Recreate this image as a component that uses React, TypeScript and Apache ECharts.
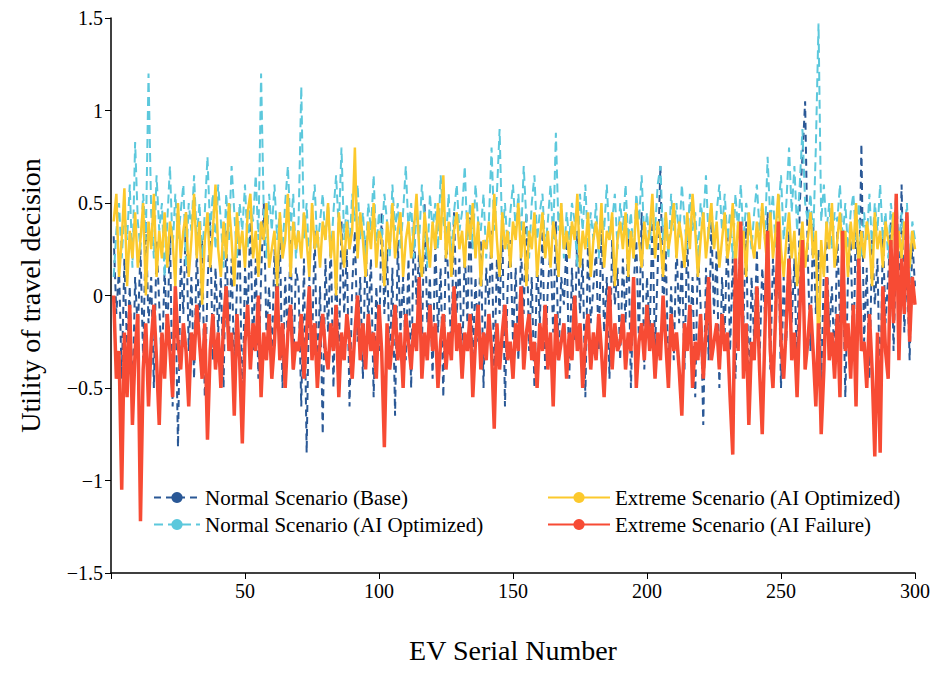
import React, { useEffect, useRef } from 'react';
import * as echarts from 'echarts';

const normalBase = [
  0.32,-0.1,0.15,-0.45,0.2,-0.3,0.05,-0.6,0.1,-0.2,
  0.25,-0.35,0.4,-0.15,0.1,-0.5,0.3,-0.05,-0.4,0.15,
  -0.25,0.35,-0.6,0.05,-0.82,0.2,-0.1,0.45,-0.3,0.1,
  -0.45,0.25,-0.15,0.3,-0.55,0.05,0.4,-0.35,0.15,-0.2,
  0.1,-0.5,0.35,-0.25,0.2,-0.4,0.05,0.3,-0.65,0.15,
  -0.1,0.4,-0.3,0.2,-0.45,0.1,0.5,-0.2,0.05,-0.35,
  0.25,-0.15,0.35,-0.5,0.1,-0.25,0.3,-0.4,0.15,0.05,
  -0.6,0.2,-0.85,0.1,-0.3,0.35,-0.45,0.05,-0.75,0.2,
  -0.2,0.3,-0.5,0.15,-0.35,0.4,-0.1,0.25,-0.6,0.05,
  0.35,-0.25,0.1,-0.45,0.3,-0.15,0.2,-0.55,0.05,-0.3,
  0.45,-0.1,0.25,-0.4,0.15,-0.65,0.3,-0.2,0.1,-0.35,
  0.2,-0.5,0.4,-0.05,0.25,-0.3,0.5,-0.15,0.1,-0.45,
  0.3,-0.2,0.15,-0.55,0.35,0.05,-0.3,0.45,-0.1,0.2,
  -0.4,0.25,-0.15,0.5,-0.35,0.1,-0.25,0.3,-0.5,0.15,
  -0.05,0.35,-0.45,0.2,-0.1,0.4,-0.6,0.05,0.3,-0.25,
  0.15,-0.35,0.25,-0.1,0.45,-0.3,0.1,-0.5,0.2,-0.15,
  0.35,-0.4,0.05,0.25,-0.2,0.4,-0.35,0.1,-0.05,0.3,
  -0.45,0.15,-0.25,0.35,-0.1,0.2,-0.55,0.3,-0.15,0.05,
  0.25,-0.3,0.4,-0.2,0.1,-0.45,0.3,-0.05,0.15,-0.35,
  0.2,-0.15,0.35,-0.5,0.05,0.3,-0.25,0.45,-0.4,0.1,
  -0.2,0.4,-0.3,0.15,0.7,-0.1,0.25,-0.45,0.05,-0.35,
  0.3,-0.15,0.2,-0.4,0.35,-0.25,0.1,-0.55,0.25,-0.05,
  -0.7,0.15,-0.35,0.4,-0.1,0.25,-0.5,0.1,-0.2,0.35,
  -0.3,0.2,-0.45,0.05,0.3,-0.15,0.4,-0.6,0.1,-0.25,
  0.25,-0.35,0.15,-0.1,0.45,-0.4,0.2,-0.05,0.3,-0.5,
  0.1,-0.25,0.35,-0.15,0.2,-0.45,0.5,0.75,1.05,0.2,
  -0.3,0.4,-0.1,0.25,-0.5,0.15,0.3,-0.2,0.05,-0.4,
  0.35,-0.15,0.2,-0.55,0.1,0.3,-0.35,0.45,-0.1,0.82,
  -0.25,0.15,-0.45,0.3,-0.05,0.2,-0.6,0.35,-0.15,0.1,
  0.4,-0.3,0.25,-0.1,0.6,-0.2,0.15,-0.35,0.3,0.05,
];

const normalAI = [
  0.1,0.35,0.5,0.2,0.45,0.3,0.6,0.15,0.83,0.4,
  0.25,0.55,0.3,1.2,0.45,0.2,0.65,0.35,0.5,0.1,
  0.4,0.7,0.25,0.55,0.3,0.45,0.6,0.15,0.5,0.35,
  0.65,0.3,0.5,0.2,0.45,0.75,0.35,0.55,0.25,0.6,
  0.4,0.15,0.55,0.3,0.7,0.45,0.2,0.5,0.35,0.6,
  0.25,0.5,0.4,0.65,0.3,1.2,0.45,0.2,0.55,0.35,
  0.6,0.3,0.45,0.25,0.5,0.7,0.35,0.55,0.2,0.4,
  1.13,0.3,0.5,0.15,0.45,0.6,0.25,0.4,0.55,0.3,
  0.5,0.2,0.45,0.65,0.35,0.8,0.3,0.5,0.25,0.55,
  0.4,0.6,0.3,0.45,0.2,0.5,0.35,0.65,0.25,0.45,
  0.3,0.55,0.4,0.2,0.6,0.35,0.5,0.25,0.45,0.7,
  0.35,0.5,0.2,0.45,0.3,0.6,0.4,0.15,0.55,0.35,
  0.5,0.25,0.65,0.4,0.3,0.55,0.2,0.45,0.6,0.35,
  0.45,0.7,0.3,0.5,0.25,0.6,0.4,0.35,0.55,0.2,
  0.4,0.8,0.35,0.55,0.9,0.3,0.5,0.25,0.45,0.6,
  0.35,0.55,0.3,0.7,0.4,0.2,0.5,0.65,0.3,0.45,
  0.55,0.25,0.4,0.6,0.3,0.88,0.35,0.5,0.2,0.45,
  0.3,0.5,0.4,0.15,0.55,0.35,0.6,0.25,0.45,0.3,
  0.5,0.2,0.45,0.35,0.6,0.3,0.4,0.55,0.25,0.5,
  0.35,0.6,0.3,0.45,0.2,0.55,0.4,0.65,0.3,0.45,
  0.25,0.5,0.35,0.6,0.7,0.3,0.45,0.2,0.55,0.35,
  0.5,0.3,0.6,0.4,0.25,0.55,0.35,0.45,0.2,0.5,
  0.4,0.65,0.3,0.5,0.25,0.45,0.6,0.35,0.55,0.3,
  0.45,0.2,0.55,0.35,0.6,0.3,0.5,0.4,0.25,0.45,
  0.6,0.35,0.5,0.3,0.75,0.4,0.55,0.25,0.45,0.65,
  0.3,0.5,0.8,0.45,0.7,0.35,0.6,0.9,0.5,0.4,
  0.55,0.3,0.8,1.47,0.4,0.6,0.35,0.5,0.25,0.45,
  0.4,0.6,0.3,0.5,0.25,0.45,0.55,0.3,0.5,0.2,
  0.45,0.3,0.55,0.25,0.5,0.35,0.6,0.3,0.45,0.2,
  0.5,0.35,0.55,0.25,0.45,0.3,0.5,0.1,0.4,0.3,
];

const extremeOptimized = [
  0.4,0.55,0.1,0.3,0.58,0.05,0.35,0.2,0.45,0.15,
  0.3,0.5,0.0,0.4,0.25,0.55,0.1,0.35,0.2,0.45,
  0.15,0.4,0.3,0.05,0.5,0.2,0.35,0.45,0.1,0.3,
  0.55,0.2,0.4,-0.05,0.3,0.45,0.15,0.35,0.6,0.25,
  0.1,0.4,0.2,0.5,0.3,0.05,0.45,0.25,0.35,0.15,
  0.45,0.55,0.2,0.35,0.1,0.4,0.3,0.5,0.15,0.25,
  0.35,0.05,0.45,0.2,0.3,0.55,0.1,0.4,0.25,0.35,
  0.2,0.45,0.3,0.1,0.5,0.25,0.35,0.15,0.4,0.3,
  0.5,0.2,0.35,0.0,0.45,0.3,0.15,0.4,0.25,0.35,
  0.8,0.2,0.45,0.3,0.1,0.4,0.25,0.5,0.15,0.35,
  0.3,0.05,0.4,0.25,0.5,0.2,0.35,0.45,0.1,0.3,
  0.4,0.2,0.35,0.55,0.25,0.1,0.45,0.3,0.15,0.4,
  0.25,0.5,0.3,0.65,0.2,0.4,0.1,0.35,0.45,0.25,
  0.35,0.15,0.45,0.3,0.5,0.2,0.4,0.05,0.3,0.25,
  0.4,0.2,0.55,0.3,0.1,0.45,0.25,0.35,0.15,0.4,
  0.3,0.5,0.2,0.4,0.05,0.35,0.25,0.45,0.1,0.3,
  0.45,0.2,0.35,0.15,0.4,0.3,0.1,0.5,0.25,0.35,
  0.2,0.4,0.3,0.55,0.15,0.35,0.25,0.45,0.1,0.3,
  0.4,0.25,0.5,0.15,0.35,0.3,0.45,0.05,0.3,0.4,
  0.25,0.45,0.1,0.35,0.2,0.5,0.3,0.15,0.4,0.25,
  0.35,0.55,0.2,0.4,0.3,0.1,0.45,0.25,0.35,0.5,
  0.2,0.4,0.3,0.15,0.45,0.25,0.55,0.35,0.1,0.3,
  0.45,0.2,0.35,0.5,0.25,0.4,0.15,0.3,0.45,0.2,
  0.3,0.5,0.15,0.4,0.25,0.35,0.1,0.45,0.3,0.2,
  0.4,0.25,0.5,0.3,0.15,0.45,0.2,0.35,0.55,0.25,
  0.1,0.3,0.45,0.2,0.35,0.05,0.25,0.4,0.15,0.3,
  0.45,0.2,0.35,-0.35,0.3,0.1,0.4,0.25,0.5,0.15,
  0.3,0.45,0.2,0.35,0.1,0.4,0.25,0.5,0.15,0.35,
  0.2,0.4,0.3,0.05,0.45,0.25,0.35,0.15,0.4,0.3,
  0.25,0.45,0.1,0.35,0.2,0.4,0.3,0.15,0.35,0.25,
];

const extremeFailure = [
  0.0,-0.45,-0.3,-1.05,-0.2,-0.55,-0.05,-0.7,-0.3,-0.1,
  -1.22,-0.4,-0.15,-0.6,-0.25,-0.05,-0.35,-0.7,-0.2,-0.45,
  -0.1,-0.3,-0.55,0.05,-0.25,-0.4,-0.15,-0.3,-0.6,-0.2,
  -0.35,-0.05,-0.25,-0.45,-0.15,-0.78,-0.3,-0.1,-0.4,-0.2,
  -0.5,-0.15,0.05,-0.3,-0.2,-0.65,-0.1,-0.35,-0.8,-0.25,
  -0.05,-0.4,-0.15,-0.3,0.0,-0.55,-0.2,-0.35,-0.1,-0.45,
  -0.25,0.05,-0.35,-0.15,-0.5,-0.2,-0.05,-0.4,-0.25,-0.3,
  -0.1,-0.45,-0.2,0.05,-0.35,-0.15,-0.5,-0.25,-0.1,-0.3,
  -0.4,-0.15,-0.3,-0.05,-0.55,-0.2,-0.35,-0.1,-0.25,-0.45,
  -0.2,0.0,-0.35,-0.15,-0.4,-0.1,-0.3,-0.2,-0.45,-0.05,
  -0.3,-0.82,-0.15,-0.4,-0.25,-0.05,-0.35,-0.2,-0.5,-0.1,
  -0.25,-0.4,-0.15,-0.3,0.1,-0.45,-0.2,-0.35,-0.05,-0.3,
  -0.15,-0.5,-0.25,-0.1,-0.4,-0.2,-0.35,0.05,-0.3,-0.15,
  -0.45,-0.2,-0.3,-0.1,-0.55,-0.25,-0.05,-0.4,-0.2,-0.35,
  -0.1,-0.3,-0.72,-0.15,-0.4,-0.2,-0.05,-0.35,-0.25,-0.45,
  -0.15,-0.3,0.05,-0.4,-0.2,-0.1,-0.35,-0.25,-0.5,-0.15,
  -0.3,-0.05,-0.4,-0.2,-0.6,-0.1,-0.35,-0.25,-0.15,-0.45,
  -0.2,-0.35,0.0,-0.3,-0.15,-0.5,-0.25,-0.1,-0.4,-0.2,
  -0.35,-0.1,-0.3,-0.55,-0.2,0.05,-0.4,-0.15,-0.3,-0.25,
  -0.1,-0.4,-0.2,-0.3,0.1,-0.5,-0.25,-0.15,-0.35,-0.05,
  -0.3,-0.15,-0.45,-0.2,-0.35,0.0,-0.25,-0.5,-0.1,-0.3,
  -0.2,-0.4,-0.65,-0.15,-0.3,-0.05,-0.5,-0.25,-0.35,-0.1,
  -0.45,-0.2,0.1,-0.35,-0.25,-0.15,-0.4,-0.1,-0.3,-0.2,
  -0.55,-0.86,0.2,-0.3,0.4,-0.45,-0.15,-0.7,-0.25,-0.35,
  0.05,-0.4,-0.75,-0.2,0.35,-0.3,-0.5,-0.1,0.4,-0.25,
  -0.45,-0.15,0.2,-0.35,-0.2,-0.55,-0.1,0.3,-0.4,-0.25,
  -0.05,-0.3,-0.6,-0.15,-0.75,-0.4,0.1,-0.35,-0.2,-0.45,
  -0.1,-0.55,0.35,-0.3,-0.15,-0.45,-0.05,-0.6,0.2,-0.3,
  -0.25,-0.5,-0.1,-0.4,-0.87,-0.2,-0.85,0.05,-0.3,-0.45,
  0.3,-0.15,0.55,-0.35,0.2,-0.1,0.45,-0.25,0.1,-0.05,
];

const yTicks = ['−1.5', '−1', '−0.5', '0', '0.5', '1', '1.5'];

const font = 'Liberation Serif';
const withX = (arr: number[]) => arr.map((v, i) => [i + 1, v]);

const App: React.FC = () => {
  const chartRef = useRef<HTMLDivElement>(null);

  useEffect(() => {
    if (!chartRef.current) return;
    const chart = echarts.init(chartRef.current, undefined, { renderer: 'svg' });
    const legendText = { fontFamily: font, fontSize: 21, color: '#000' };
    chart.setOption({
      animation: false,
      grid: { left: 92, right: 24, top: 10, bottom: 89 },
      legend: [
        {
          data: ['Normal Scenario (Base)', 'Normal Scenario (AI Optimized)'],
          orient: 'vertical', left: 140, top: 474, itemGap: 6, itemWidth: 46,
          textStyle: legendText,
        },
        {
          data: ['Extreme Scenario (AI Optimized)', 'Extreme Scenario (AI Failure)'],
          orient: 'vertical', left: 534, top: 474, itemGap: 6, itemWidth: 62,
          textStyle: legendText,
        },
      ],
      xAxis: {
        type: 'value', min: 0, max: 300, interval: 50,
        name: 'EV Serial Number', nameLocation: 'middle', nameGap: 63,
        nameTextStyle: { fontFamily: font, fontSize: 28, color: '#000' },
        axisLine: { onZero: false, lineStyle: { color: '#000', width: 1.5 } },
        axisTick: { lineStyle: { color: '#000' }, length: 6 },
        axisLabel: {
          fontFamily: font, fontSize: 20, color: '#000',
          formatter: (v: number) => (v === 0 ? '' : String(v)),
        },
        splitLine: { show: false },
      },
      yAxis: {
        type: 'value', min: -1.5, max: 1.5, interval: 0.5,
        name: 'Utility of travel decision', nameLocation: 'middle', nameGap: 67,
        nameTextStyle: { fontFamily: font, fontSize: 28, color: '#000' },
        axisLine: { show: true, onZero: false, lineStyle: { color: '#000', width: 1.5 } },
        axisTick: { show: true, lineStyle: { color: '#000' }, length: 6 },
        axisLabel: {
          fontFamily: font, fontSize: 20, color: '#000',
          formatter: (v: number) => yTicks[Math.round((v + 1.5) / 0.5)],
        },
        splitLine: { show: false },
      },
      series: [
        {
          name: 'Normal Scenario (Base)', type: 'line', symbol: 'none',
          data: withX(normalBase), color: '#2a5896',
          lineStyle: { width: 2, type: [7, 5] },
        },
        {
          name: 'Normal Scenario (AI Optimized)', type: 'line', symbol: 'none',
          data: withX(normalAI), color: '#5cc8dc',
          lineStyle: { width: 2, type: [9, 5] },
        },
        {
          name: 'Extreme Scenario (AI Optimized)', type: 'line', symbol: 'none',
          data: withX(extremeOptimized), color: '#fcc92c',
          lineStyle: { width: 2.5 },
        },
        {
          name: 'Extreme Scenario (AI Failure)', type: 'line', symbol: 'none',
          data: withX(extremeFailure), color: '#f74b34',
          lineStyle: { width: 3.5 },
        },
      ],
    });
    return () => chart.dispose();
  }, []);

  return <div ref={chartRef} style={{ width: 931, height: 661 }} />;
};

export default App;
